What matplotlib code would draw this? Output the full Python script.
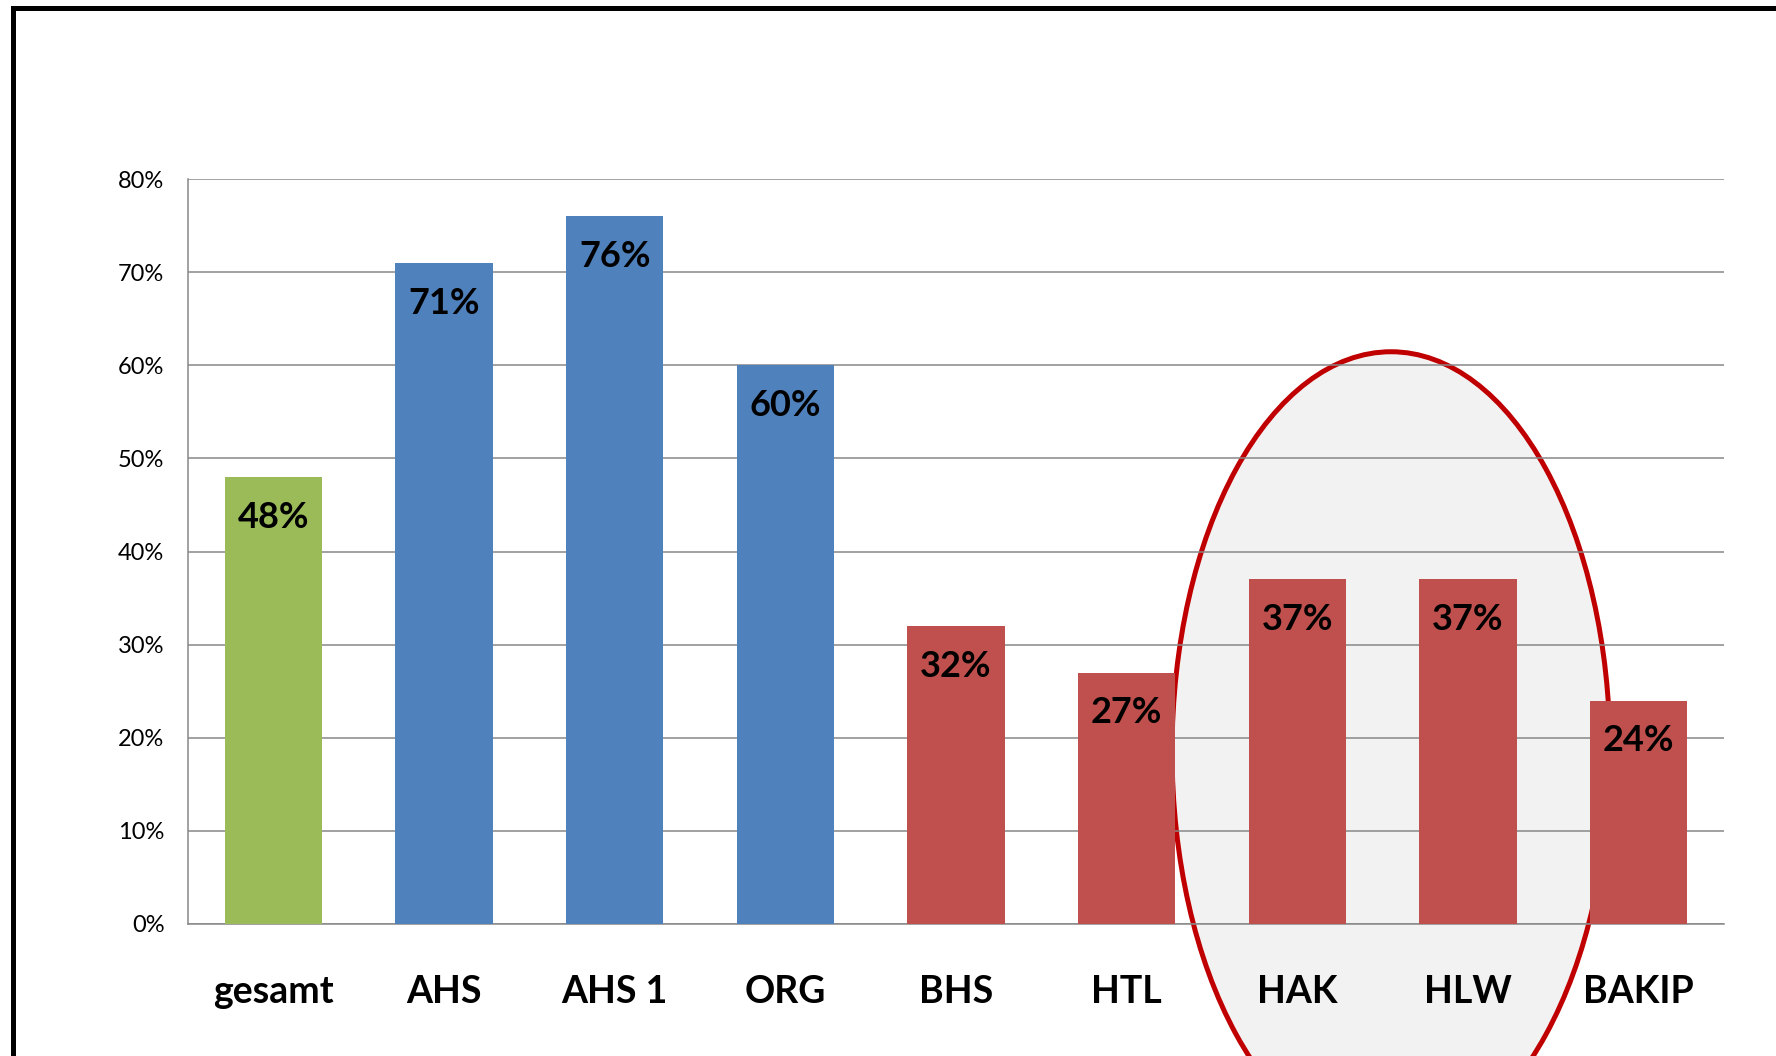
import matplotlib
matplotlib.use('Agg')
import matplotlib.pyplot as plt
from matplotlib.patches import Ellipse
from matplotlib.lines import Line2D
from matplotlib.ticker import FuncFormatter

plt.rcParams['font.family'] = ['Lato', 'DejaVu Sans']

categories = ['gesamt', 'AHS', 'AHS 1', 'ORG', 'BHS', 'HTL', 'HAK', 'HLW', 'BAKIP']
values = [48, 71, 76, 60, 32, 27, 37, 37, 24]
groups = ['total', 'ahs', 'ahs', 'ahs', 'bhs', 'bhs', 'bhs', 'bhs', 'bhs']
y_ticks = [0, 10, 20, 30, 40, 50, 60, 70, 80]

colors = {'total': '#9BBB59', 'ahs': '#4F81BD', 'bhs': '#C0504D'}

fig = plt.figure(figsize=(17.76, 10.56), dpi=100)
ax = fig.add_axes([188/1776, 1 - 924/1056, (1724-188)/1776, (924-179)/1056])
ax.patch.set_alpha(0)

x = list(range(len(categories)))
bars = ax.bar(x, values, width=0.57, color=[colors[g] for g in groups], zorder=2)

for xi, v in zip(x, values):
    ax.annotate(f'{v}%', (xi, v), xytext=(0, -29), textcoords='offset points',
                ha='center', va='center', fontsize=26, fontweight='bold', zorder=3)

# highlight ellipse around HAK / HLW
ell = Ellipse((6.549, 18.5), 2.566, 85.9, facecolor='#F2F2F2', edgecolor='#C00000',
              linewidth=3.6, zorder=0.3, clip_on=False)
ax.add_patch(ell)

ax.set_xlim(-0.5, len(categories) - 0.5)
ax.set_ylim(0, 80)
ax.set_yticks(y_ticks)
ax.yaxis.set_major_formatter(FuncFormatter(lambda v, p: f'{v:.0f}%'))
ax.set_xticks(x)
ax.set_xticklabels(categories, fontsize=27, fontweight='bold')
ax.tick_params(axis='y', length=0, pad=17, labelsize=17)
ax.tick_params(axis='x', length=0, pad=37)

ax.set_axisbelow(True)
ax.grid(axis='y', color='#888888', linewidth=1.1)
for s in ['top', 'right']:
    ax.spines[s].set_visible(False)
for s in ['left', 'bottom']:
    ax.spines[s].set_color('#888888')
    ax.spines[s].set_linewidth(1.1)
    ax.spines[s].set_zorder(0.5)

# black frame (left and top edges visible)
fx = 13/1776
fy = 1 - 7.5/1056
fig.add_artist(Line2D([fx, fx], [-0.01, fy], transform=fig.transFigure, color='black', linewidth=3.6))
fig.add_artist(Line2D([fx, 1.01], [fy, fy], transform=fig.transFigure, color='black', linewidth=3.6))

fig.savefig('out.png', dpi=100)
